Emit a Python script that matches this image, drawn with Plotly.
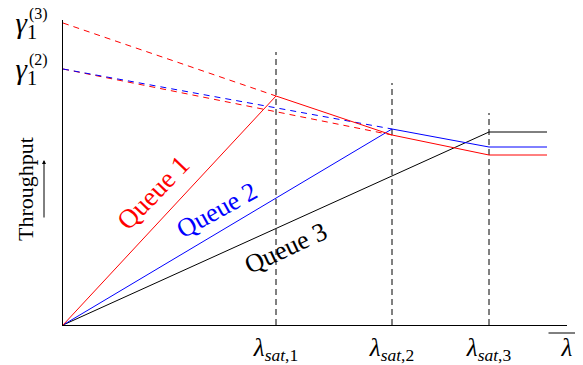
import plotly.graph_objects as go

# Datos (unidades arbitrarias)
LAM_SAT = [2.13, 3.29, 4.26]
X_MAX = 5.04
Y_MAX = 3.05
GUIDE_TOP = [2.73, 2.42, 2.12]

Q1_X = [0, 2.13, 3.29, 4.26, 4.84]
Q1_Y = [0, 2.29, 1.90, 1.70, 1.70]
Q2_X = [0, 3.29, 4.26, 4.84]
Q2_Y = [0, 1.96, 1.78, 1.78]
Q3_X = [0, 4.26, 4.84]
Q3_Y = [0, 1.93, 1.93]

GAMMA = [2.56, 3.02]
GAMMA_SUP = ["(2)", "(3)"]

# lineas discontinuas (eficiencia)
D1_X = [0, 2.13]
D1_Y = [3.02, 2.29]
D2R_X = [0, 3.29]
D2R_Y = [2.56, 1.90]
D2B_X = [0, 3.29]
D2B_Y = [2.56, 1.96]

X_TICKS = ["<i>λ</i><sub><i>sat</i>,1</sub>", "<i>λ</i><sub><i>sat</i>,2</sub>",
           "<i>λ</i><sub><i>sat</i>,3</sub>", "<i>λ</i>"]

RED = "#ff0000"
BLUE = "#0000ff"
BLACK = "#000000"
FONT = "Liberation Serif"

# el body de la pagina tiene 8px de margen
OFF = 8
W, H = 583 - OFF, 365 - OFF
ML, MR, MT, MB = 63 - OFF, 16, 20 - OFF, 40
PW, PH = W - ML - MR, H - MT - MB


def px_x(p):
    return (p - OFF - ML) / PW


def px_y(p):
    return (H - MB - (p - OFF)) / PH


fig = go.Figure()

# guias verticales
gx, gy = [], []
for lam, top in zip(LAM_SAT, GUIDE_TOP):
    gx += [lam, lam, None]
    gy += [0, top, None]
fig.add_trace(go.Scatter(x=gx, y=gy, mode="lines",
                         line=dict(color=BLACK, width=1, dash="6px,4px")))

fig.add_trace(go.Scatter(x=D1_X, y=D1_Y, mode="lines",
                         line=dict(color=RED, width=1, dash="6px,5px")))
fig.add_trace(go.Scatter(x=D2R_X, y=D2R_Y, mode="lines",
                         line=dict(color=RED, width=1, dash="6px,5px")))
fig.add_trace(go.Scatter(x=D2B_X, y=D2B_Y, mode="lines",
                         line=dict(color=BLUE, width=1, dash="6px,5px")))

fig.add_trace(go.Scatter(x=Q3_X, y=Q3_Y, mode="lines", line=dict(color=BLACK, width=1)))
fig.add_trace(go.Scatter(x=Q2_X, y=Q2_Y, mode="lines", line=dict(color=BLUE, width=1)))
fig.add_trace(go.Scatter(x=Q1_X, y=Q1_Y, mode="lines", line=dict(color=RED, width=1)))

ann = []
# etiquetas de colas
ann.append(dict(x=0.90, y=1.32, text="Queue 1", textangle=-46,
                font=dict(color=RED, size=27)))
ann.append(dict(x=1.53, y=1.15, text="Queue 2", textangle=-29,
                font=dict(color=BLUE, size=26)))
ann.append(dict(x=2.22, y=0.77, text="Queue 3", textangle=-25,
                font=dict(color=BLACK, size=26)))
for a in ann:
    a.update(xref="x", yref="y", showarrow=False, xanchor="center", yanchor="middle")

# superindices gamma
for g, s in zip(GAMMA, GAMMA_SUP):
    ann.append(dict(x=px_x(27), y=g, xref="paper", yref="y", text=s,
                    showarrow=False, xanchor="left", yanchor="middle", yshift=9,
                    font=dict(size=16, color=BLACK)))

# eje y: Throughput + flecha
ann.append(dict(x=px_x(25), y=px_y(189), xref="paper", yref="paper", text="Throughput",
                textangle=-90, showarrow=False, xanchor="center", yanchor="middle",
                font=dict(size=22, color=BLACK)))
ann.append(dict(x=px_x(44), y=px_y(160), xref="paper", yref="paper", text="",
                showarrow=True, ax=0, ay=59, arrowhead=2, arrowsize=0.8,
                arrowwidth=1, arrowcolor=BLACK))
# flecha sobre lambda
ann.append(dict(x=px_x(583), y=px_y(333), xref="paper", yref="paper", text="",
                showarrow=True, ax=-36, ay=0, arrowhead=2, arrowsize=0.8,
                arrowwidth=1, arrowcolor=BLACK))

fig.update_layout(
    width=W, height=H,
    margin=dict(l=ML, r=MR, t=MT, b=MB),
    paper_bgcolor="white", plot_bgcolor="white",
    font=dict(family=FONT, color=BLACK),
    showlegend=False,
    annotations=ann,
    xaxis=dict(range=[0, X_MAX], showgrid=False, zeroline=False,
               showline=True, linecolor=BLACK, linewidth=1, automargin=False,
               tickvals=LAM_SAT + [X_MAX], ticktext=X_TICKS,
               ticks="", tickfont=dict(size=25, color=BLACK),
               ticklabelstandoff=0, ticklabeloverflow="allow"),
    yaxis=dict(range=[0, Y_MAX], showgrid=False, zeroline=False,
               showline=True, linecolor=BLACK, linewidth=1, automargin=False,
               tickvals=GAMMA, ticktext=["<i>γ</i><sub>1</sub>"] * 2,
               ticks="", tickfont=dict(size=29, color=BLACK),
               ticklabelstandoff=19, ticklabeloverflow="allow"),
)

fig.write_html("out.html")
